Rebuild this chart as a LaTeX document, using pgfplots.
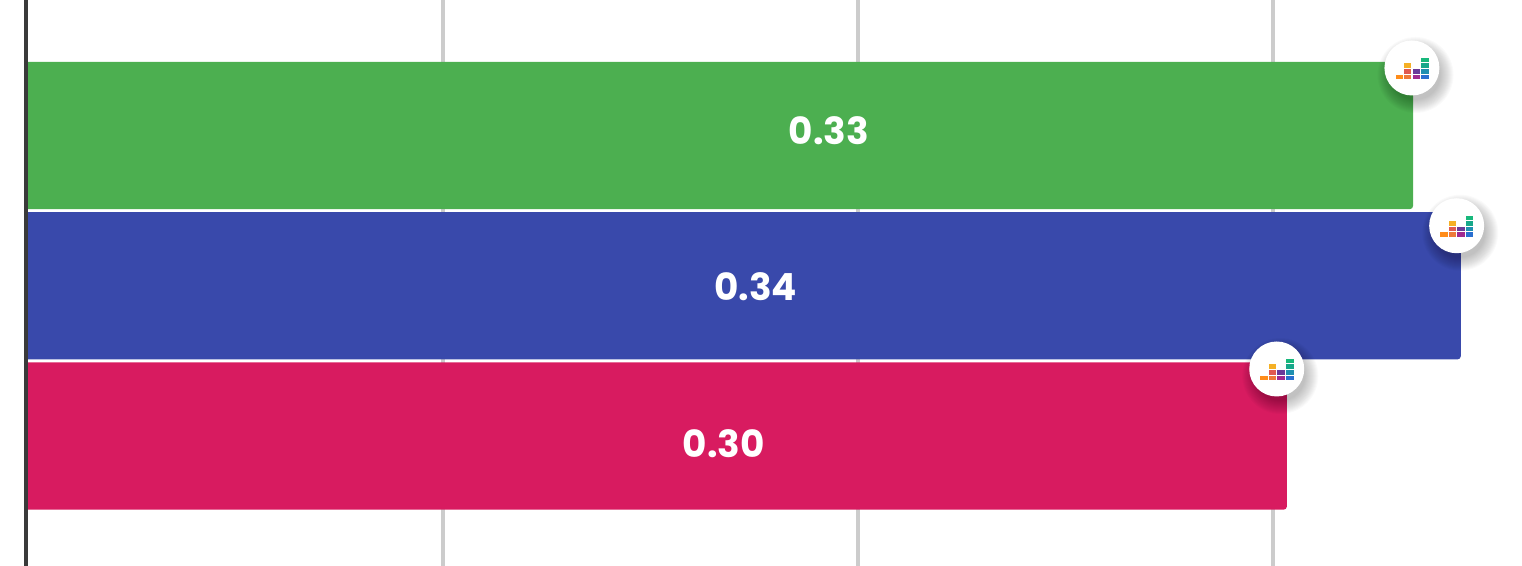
\documentclass[border=0pt]{standalone}
\usepackage{fontspec}
\setmainfont{Poppins}[BoldFont={Poppins Bold}]
\usepackage{pgfplots}
\pgfplotsset{compat=1.18}
\definecolor{cgreen}{HTML}{4CAF50}
\definecolor{cblue}{HTML}{3949AB}
\definecolor{cpink}{HTML}{D81B60}
\definecolor{cgrid}{HTML}{CCCCCC}
\definecolor{caxis}{HTML}{3A3A3A}
\definecolor{dza}{HTML}{FF8C1A}
\definecolor{dzb}{HTML}{EE7A3A}
\definecolor{dzc}{HTML}{E05A50}
\definecolor{dzd}{HTML}{F5B025}
\definecolor{dze}{HTML}{A02A90}
\definecolor{dzf}{HTML}{6A3A9A}
\definecolor{dzg}{HTML}{2A6FD0}
\definecolor{dzh}{HTML}{1F8FB0}
\definecolor{dzi}{HTML}{17A88A}
\definecolor{dzj}{HTML}{18B87C}
\newcommand{\shc}[1]{\fill[black,opacity=0.02] (1.8pt,-3.5pt) circle[radius=#1pt];}
\newcommand{\ir}[5]{\fill[fill=#1] (#2pt,#3pt) rectangle (#4pt,#5pt);}
% icon: #1 = anchor in axis cs, #2,#3 = offset in pt
\newcommand{\dzicon}[3]{%
  \begin{scope}[shift={(axis cs:#1)},shift={(#2pt,#3pt)}]
    \shc{19}\shc{18.5}\shc{18}\shc{17.5}\shc{17}\shc{16.5}\shc{16}\shc{15.5}\shc{15}\shc{14.5}\shc{14}\shc{13.5}\shc{13}\shc{12.5}
    \fill[white] (0pt,0pt) circle[radius=13.75pt];
    \ir{dza}{-8.15}{-3.3}{-4.5}{-5.6}
    \ir{dzb}{-4}{-3.3}{-0.35}{-5.6}
    \ir{dzc}{-4}{-0.5}{-0.35}{-2.8}
    \ir{dzd}{-4}{2.3}{-0.35}{0.1}
    \ir{dze}{0.35}{-3.3}{3.95}{-5.6}
    \ir{dzf}{0.35}{-0.5}{3.95}{-2.8}
    \ir{dzg}{4.65}{-3.3}{8.4}{-5.6}
    \ir{dzh}{4.65}{-0.5}{8.4}{-2.8}
    \ir{dzi}{4.65}{2.3}{8.4}{0.1}
    \ir{dzj}{4.65}{5.1}{8.4}{2.9}
  \end{scope}}
\begin{document}
\begin{tikzpicture}
\path[use as bounding box] (0pt,0pt) rectangle (761pt,283pt);
\begin{axis}[
  scale only axis, width=761pt, height=283pt,
  xmin=-0.00667, xmax=0.35998, ymin=-0.8652, ymax=2.9018,
  xtick={0.1,0.2,0.3}, ytick=\empty, xticklabels={},
  xmajorgrids, major grid style={cgrid,line width=1.7pt},
  axis line style={draw=none}, tick style={draw=none},
  xbar, bar width=73.6pt, bar shift=0pt,
]
\addplot[fill=cgreen,draw=none,rounded corners=1.5pt,xshift=-1.2pt] coordinates {(0.3343,2)};
\addplot[fill=cblue,draw=none,rounded corners=1.5pt,xshift=-1.2pt] coordinates {(0.3458,1)};
\addplot[fill=cpink,draw=none,rounded corners=1.5pt,xshift=-1.2pt] coordinates {(0.3039,0)};
\addplot[sharp plot,caxis,line width=1.8pt,xshift=-0.85pt] coordinates {(0,-0.8652) (0,2.9018)};
\dzicon{0.3337,2}{-0.5}{33.75}
\dzicon{0.3452,1}{-2}{30}
\dzicon{0.3033,0}{-5}{33.5}
\node[white,font=\fontsize{18.7}{22}\selectfont\bfseries] at (axis cs:0.193,2.03) {0.33};
\node[white,font=\fontsize{18.7}{22}\selectfont\bfseries] at (axis cs:0.1754,0.993) {0.34};
\node[white,font=\fontsize{18.7}{22}\selectfont\bfseries] at (axis cs:0.1677,-0.053) {0.30};
\end{axis}
\end{tikzpicture}
\end{document}
